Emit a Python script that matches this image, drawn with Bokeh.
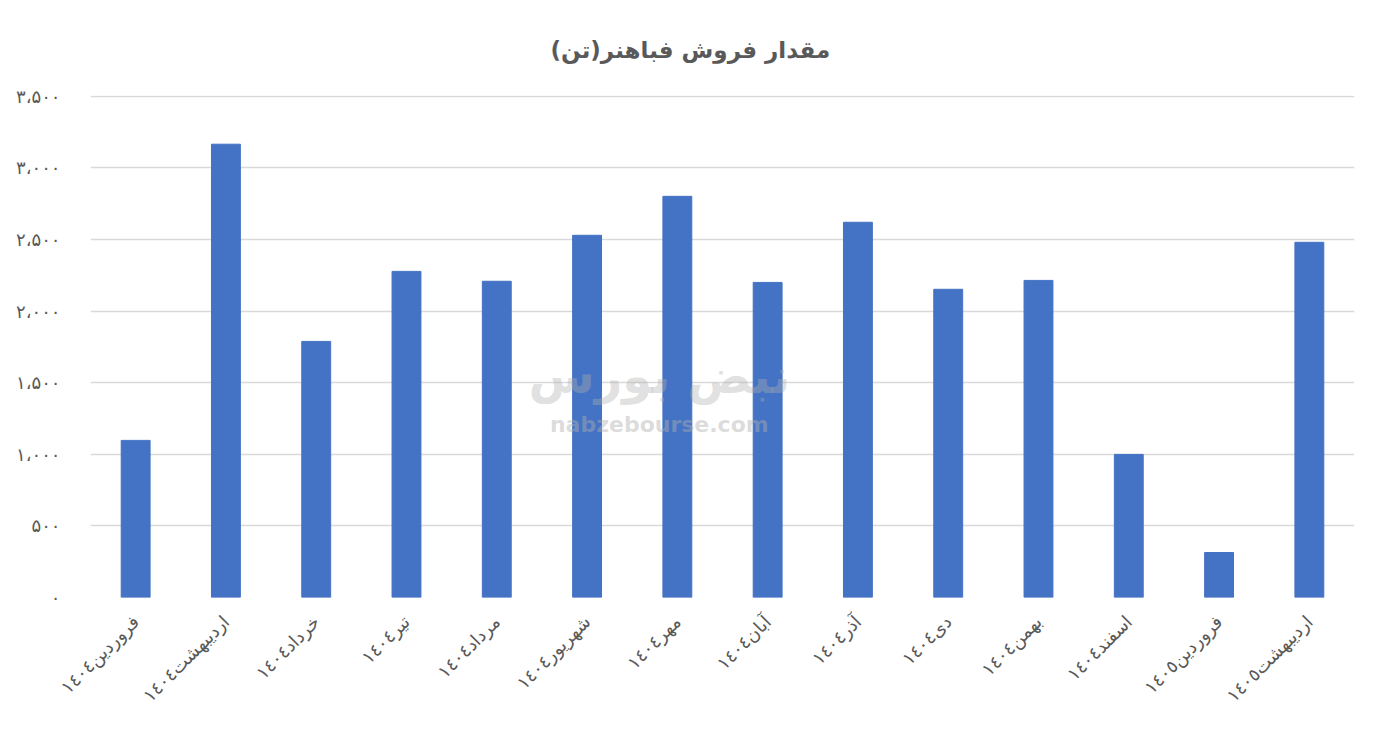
from bokeh.plotting import figure
from bokeh.models import FixedTicker, Label, Range1d
from bokeh.embed import file_html
from bokeh.resources import INLINE
import math

title_text = "مقدار فروش فباهنر(تن)"
months = [
    "فروردین١٤٠٤", "اردیبهشت١٤٠٤", "خرداد١٤٠٤", "تیر١٤٠٤", "مرداد١٤٠٤",
    "شهریور١٤٠٤", "مهر١٤٠٤", "آبان١٤٠٤", "آذر١٤٠٤", "دی١٤٠٤",
    "بهمن١٤٠٤", "اسفند١٤٠٤", "فروردین١٤٠٥", "اردیبهشت١٤٠٥",
]
sales = [1097, 3165, 1788, 2277, 2208, 2529, 2801, 2200, 2620, 2152, 2214, 999, 314, 2480]
y_ticks = [0, 500, 1000, 1500, 2000, 2500, 3000, 3500]
y_tick_labels = ["۰", "۵۰۰", "۱،۰۰۰", "۱،۵۰۰", "۲،۰۰۰", "۲،۵۰۰", "۳،۰۰۰", "۳،۵۰۰"]
watermark_fa = "نبض بورس"
watermark_en = "nabzebourse.com"

FONT = "DejaVu Sans"
GRAY = "#595959"

p = figure(
    x_range=months, width=1371, height=729,
    output_backend="svg", toolbar_location=None,
    min_border_left=90, min_border_right=17, min_border_top=95, min_border_bottom=132,
    title=title_text,
)
p.y_range = Range1d(0, 3505)
p.x_range.range_padding = 0

p.vbar(x=months, top=sales, width=0.32, color="#4472C4")

p.title.align = "left"
p.title.text_font = FONT
p.title.text_font_size = "23px"
p.title.text_font_style = "bold"
p.title.text_color = GRAY
p.title.offset = 460
p.title.standoff = 65

p.outline_line_color = None
p.background_fill_color = "white"
p.border_fill_color = "white"

p.xgrid.grid_line_color = None
p.ygrid.grid_line_color = "#d9d9d9"
p.ygrid.grid_line_width = 1.5

p.yaxis.ticker = FixedTicker(ticks=y_ticks)
p.yaxis.major_label_overrides = {t: l for t, l in zip(y_ticks, y_tick_labels)}
p.yaxis.axis_line_color = None
p.yaxis.major_tick_line_color = None
p.yaxis.minor_tick_line_color = None
p.yaxis.major_label_standoff = 24
p.yaxis.major_label_text_font = FONT
p.yaxis.major_label_text_font_size = "18px"
p.yaxis.major_label_text_color = GRAY

p.xaxis.axis_line_color = None
p.xaxis.major_tick_line_color = None
p.xaxis.major_label_orientation = math.pi / 4
p.xaxis.major_label_standoff = 15
p.xaxis.major_label_text_font = FONT
p.xaxis.major_label_text_font_size = "18px"
p.xaxis.major_label_text_color = GRAY

p.add_layout(Label(x=6.3, y=1550, text=watermark_fa, text_align="center", text_baseline="middle",
                   text_font=FONT, text_font_size="48px", text_font_style="bold",
                   text_color="#b0b0b0", text_alpha=0.4))
p.add_layout(Label(x=6.3, y=1210, text=watermark_en, text_align="center", text_baseline="middle",
                   text_font=FONT, text_font_size="22px", text_font_style="bold",
                   text_color="#b0b0b0", text_alpha=0.45))

open("out.html", "w").write(file_html(p, INLINE))
